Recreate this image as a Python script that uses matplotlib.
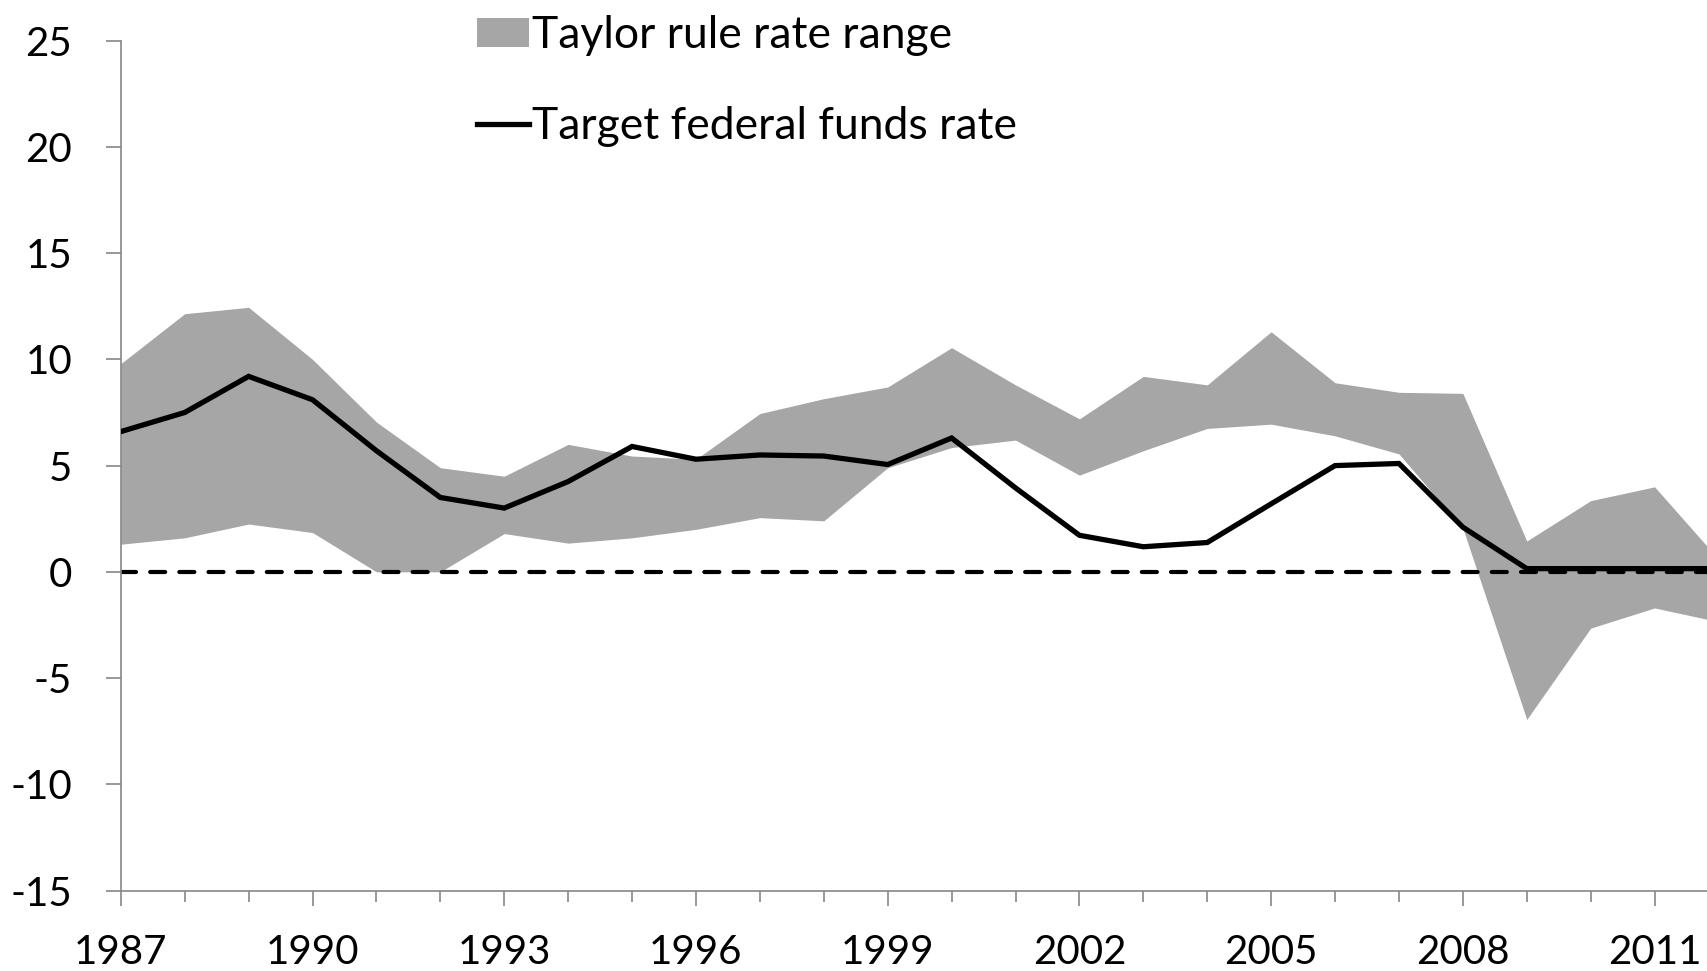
import numpy as np
import matplotlib.pyplot as plt
from matplotlib.patches import Patch
from matplotlib.lines import Line2D

plt.rcParams['font.family'] = ['Lato', 'DejaVu Sans']
plt.rcParams['axes.unicode_minus'] = False

# Data
years = np.arange(1987, 2013)
taylor_high = [9.8, 12.15, 12.45, 10.0, 7.05, 4.9, 4.5, 6.0, 5.45, 5.3,
               7.45, 8.15, 8.7, 10.55, 8.8, 7.2, 9.2, 8.8, 11.3, 8.9,
               8.45, 8.4, 1.45, 3.35, 4.0, 0.6]
taylor_low = [1.3, 1.6, 2.25, 1.85, 0.0, 0.0, 1.8, 1.35, 1.6, 2.0,
              2.55, 2.4, 4.9, 5.85, 6.2, 4.55, 5.7, 6.75, 6.95, 6.4,
              5.55, 2.05, -6.95, -2.65, -1.7, -2.35]
fed_target = [6.6, 7.5, 9.2, 8.1, 5.7, 3.5, 3.0, 4.25, 5.9, 5.3,
              5.5, 5.45, 5.05, 6.3, 3.95, 1.72, 1.18, 1.38, 3.2, 5.0,
              5.1, 2.1, 0.15, 0.15, 0.15, 0.15]

label_years = np.arange(1987, 2012, 3)
band_color = '#a6a6a6'
axis_grey = '#868686'

fig = plt.figure(figsize=(17.07, 9.71), dpi=100)
ax = fig.add_axes([120.8 / 1707, 1 - 890.5 / 971, 1 - 120.8 / 1707, (890.5 - 40.7) / 971])

ax.fill_between(years, taylor_low, taylor_high, color=band_color, linewidth=0, zorder=1)
ax.axhline(0, color='black', lw=3.0, dashes=(3.6, 3.4), dash_capstyle='round', zorder=2)
ax.plot(years, fed_target, color='black', lw=3.8, solid_joinstyle='miter', zorder=3)

ax.set_xlim(1987, 2011.82)
ax.set_ylim(-15, 25)
ax.set_yticks(np.arange(-15, 26, 5))
ax.set_xticks(label_years)
ax.set_xticks(years[years <= 2011], minor=True)

for side in ['top', 'right']:
    ax.spines[side].set_visible(False)
for side in ['left', 'bottom']:
    ax.spines[side].set_color(axis_grey)
    ax.spines[side].set_linewidth(1.2)

ax.tick_params(axis='y', which='major', direction='out', length=11, width=1.2,
               color=axis_grey, labelsize=29, pad=24)
ax.tick_params(axis='x', which='major', direction='out', length=10.5, width=1.2,
               color=axis_grey, labelsize=29, pad=21)
ax.tick_params(axis='x', which='minor', direction='out', length=8, width=1.2,
               color=axis_grey)

handles = [Patch(facecolor=band_color, edgecolor='none'),
           Line2D([], [], color='black', lw=3.8)]
fig.legend(handles, ['Taylor rule rate range', 'Target federal funds rate'],
           loc='upper left', bbox_to_anchor=(477 / 1707, 1 - 15 / 971),
           frameon=False, fontsize=32, handlelength=1.16, handleheight=0.61,
           handletextpad=0.07, labelspacing=1.12, borderpad=0, borderaxespad=0)

fig.savefig('out.png', dpi=100)
